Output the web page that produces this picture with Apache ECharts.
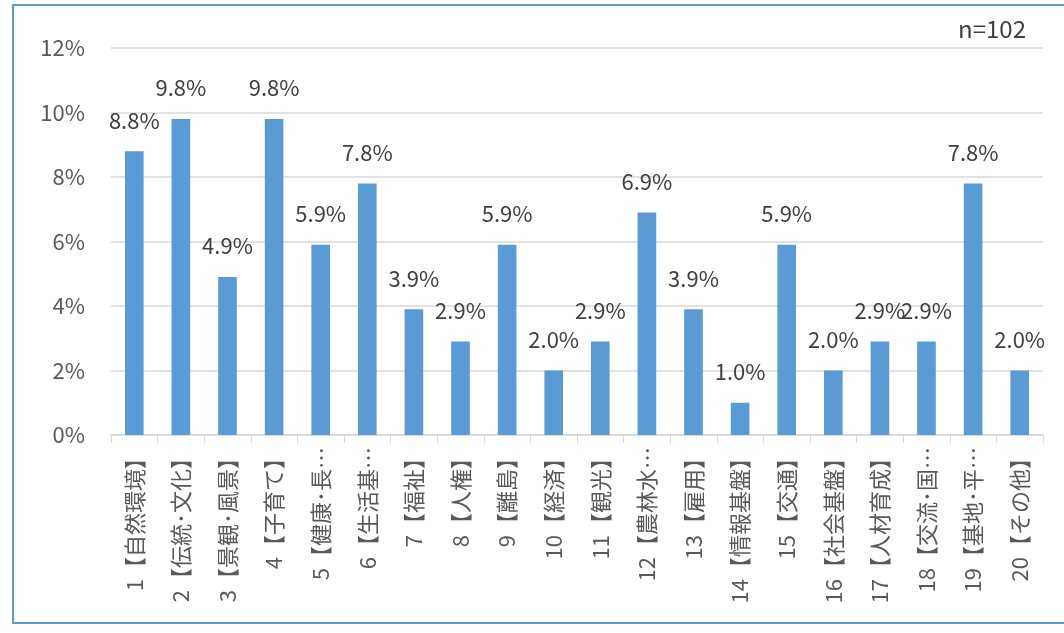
<!DOCTYPE html>
<html>
<head>
<meta charset="utf-8">
<script src="https://cdn.jsdelivr.net/npm/echarts@6/dist/echarts.min.js"></script>
<style>
  html, body { margin: 0; padding: 0; background: #fff; }
  #chart { width: 1064px; height: 633px; }
</style>
</head>
<body>
<div id="chart"></div>
<script>
// categories (axis labels as shown, truncated ones kept as in the picture)
var categories = [
  '1【自然環境】', '2【伝統･文化】', '3【景観･風景】', '4【子育て】', '5【健康･長…',
  '6【生活基…', '7【福祉】', '8【人権】', '9【離島】', '10【経済】',
  '11【観光】', '12【農林水…', '13【雇用】', '14【情報基盤】', '15【交通】',
  '16【社会基盤】', '17【人材育成】', '18【交流･国…', '19【基地･平…', '20【その他】'
]
// share of respondents, percent
var shares = [8.8, 9.8, 4.9, 9.8, 5.9, 7.8, 3.9, 2.9, 5.9, 2.0,
              2.9, 6.9, 3.9, 1.0, 5.9, 2.0, 2.9, 2.9, 7.8, 2.0]
var yTicks = { min: 0, max: 12, interval: 2 }
var sampleNote = 'n=102'

var font = '"Noto Sans CJK JP", "Liberation Sans", sans-serif'
var chart = echarts.init(document.getElementById('chart'))
chart.setOption({
  animation: false,
  textStyle: { fontFamily: font },
  grid: { left: 111, right: 21, top: 48, bottom: 198 },
  graphic: [
    {
      type: 'rect',
      shape: { x: 13, y: 5, width: 1060, height: 618 },
      style: { fill: 'none', stroke: '#5b9bd5', lineWidth: 2 }
    },
    {
      type: 'text',
      right: 38, top: 17,
      style: { text: sampleNote, fill: '#404040', font: '24px ' + font }
    }
  ],
  xAxis: {
    type: 'category',
    data: categories,
    axisLine: { lineStyle: { color: '#d9d9d9', width: 1.5 } },
    axisTick: { show: true, length: 8, lineStyle: { color: '#d9d9d9' } },
    axisLabel: {
      interval: 0,
      rotate: 90,
      margin: 12,
      color: '#595959',
      fontSize: 22,
      fontFamily: font
    }
  },
  yAxis: {
    type: 'value',
    min: yTicks.min,
    max: yTicks.max,
    interval: yTicks.interval,
    axisLine: { show: false },
    axisTick: { show: false },
    splitLine: { lineStyle: { color: '#d9d9d9', width: 1.5 } },
    axisLabel: {
      formatter: '{value}%',
      margin: 26,
      color: '#595959',
      fontSize: 22,
      fontFamily: font
    }
  },
  series: [
    {
      type: 'bar',
      data: shares,
      barWidth: '40%',
      itemStyle: { color: '#5b9bd5' },
      label: {
        show: true,
        position: 'top',
        distance: 20,
        color: '#404040',
        fontSize: 22,
        fontFamily: font,
        formatter: function (p) { return p.value.toFixed(1) + '%' }
      }
    }
  ]
})
</script>
</body>
</html>
